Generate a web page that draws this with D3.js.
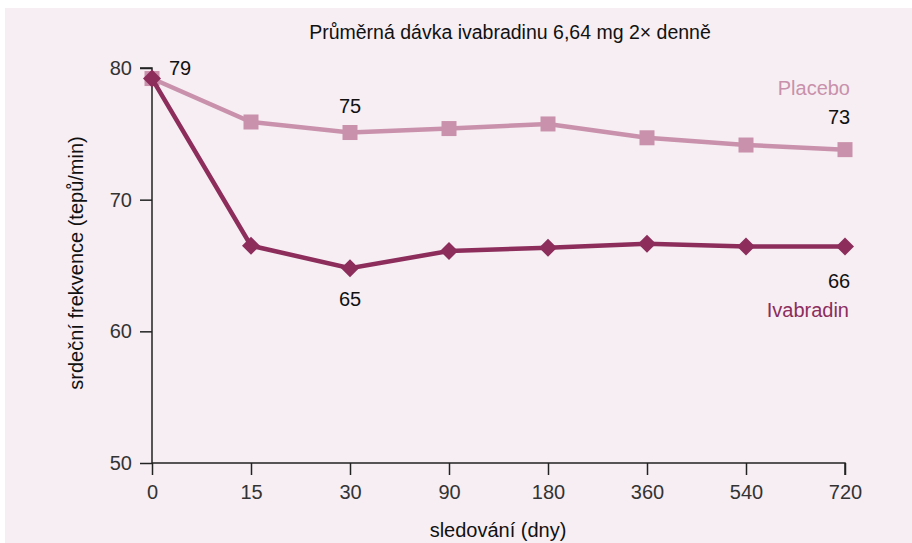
<!DOCTYPE html>
<html><head><meta charset="utf-8">
<script src="https://cdn.jsdelivr.net/npm/d3@7"></script>
<style>
html,body{margin:0;padding:0;background:#fff;}
svg{display:block;}
</style></head>
<body>
<svg id="chart" width="912" height="543"></svg>
<script>
const categories = ["0","15","30","90","180","360","540","720"];
const placebo = [79.2, 75.9, 75.1, 75.4, 75.75, 74.7, 74.15, 73.8];
const ivabradin = [79.2, 66.5, 64.8, 66.1, 66.35, 66.65, 66.45, 66.45];
const yTicks = [50, 60, 70, 80];
const title = "Průměrná dávka ivabradinu 6,64 mg 2× denně";
const yLabel = "srdeční frekvence (tepů/min)";
const xLabel = "sledování (dny)";
const pointLabels = [
  {series:"placebo", i:0, text:"79"},
  {series:"placebo", i:2, text:"75"},
  {series:"placebo", i:7, text:"73"},
  {series:"ivabradin", i:2, text:"65"},
  {series:"ivabradin", i:7, text:"66"}
];

const svg = d3.select("#chart");
const W = 912, H = 543;
svg.append("rect").attr("x",5).attr("y",8).attr("width",W-5).attr("height",H-8).attr("fill","#f6eef3");

const x = d3.scalePoint().domain(categories).range([152, 845]);
const y = d3.scaleLinear().domain([50, 80]).range([463, 68]);

const font = "'Liberation Sans', Arial, sans-serif";
const cPlacebo = "#c991ab", cIva = "#8c2d5c";

// axes
const yAxis = svg.append("g").attr("transform","translate(152,0)")
  .call(d3.axisLeft(y).tickValues(yTicks).tickSize(12).tickPadding(8).tickFormat(d3.format("d")));
const xAxis = svg.append("g").attr("transform","translate(0,463)")
  .call(d3.axisBottom(x).tickSize(12).tickPadding(10));
[yAxis, xAxis].forEach(g => {
  g.select(".domain").attr("stroke","#222").attr("stroke-width",1.5);
  g.selectAll(".tick line").attr("stroke","#222").attr("stroke-width",1.5);
  g.selectAll(".tick text").attr("fill","#333").style("font-family",font).style("font-size","20px").style("font-weight","300");
});
yAxis.select(".domain").attr("d","M-12,"+y(80)+"H0V"+y(50));
xAxis.select(".domain").attr("d","M"+x("0")+",0H"+x("720")+"V12");

const line = d3.line().x((d,i)=>x(categories[i])).y(d=>y(d));

// placebo
svg.append("path").attr("d", line(placebo)).attr("fill","none").attr("stroke",cPlacebo).attr("stroke-width",4.5);
svg.selectAll(".sq").data(placebo).join("rect")
  .attr("x",(d,i)=>x(categories[i])-7.5).attr("y",d=>y(d)-7.5)
  .attr("width",15).attr("height",15).attr("fill",cPlacebo);

// ivabradin
svg.append("path").attr("d", line(ivabradin)).attr("fill","none").attr("stroke",cIva).attr("stroke-width",4.5);
svg.selectAll(".dm").data(ivabradin).join("path")
  .attr("d",(d,i)=>{const cx=x(categories[i]), cy=y(d), r=9; return `M${cx},${cy-r}L${cx+r},${cy}L${cx},${cy+r}L${cx-r},${cy}Z`;})
  .attr("fill",cIva);

// title
svg.append("text").attr("x",510).attr("y",39).attr("text-anchor","middle")
  .style("font-family",font).style("font-size","19.5px").attr("fill","#111").text(title);

// axis labels
svg.append("text").attr("transform","translate(83,263) rotate(-90)").attr("text-anchor","middle")
  .style("font-family",font).style("font-size","20px").attr("fill","#111").text(yLabel);
svg.append("text").attr("x",498).attr("y",537).attr("text-anchor","middle")
  .style("font-family",font).style("font-size","20px").attr("fill","#111").text(xLabel);

// point labels
const offs = {"placebo-0":[28,-4],"placebo-2":[0,-20],"placebo-7":[-6,-26],"ivabradin-2":[0,38],"ivabradin-7":[-6,42]};
pointLabels.forEach(p => {
  const vals = p.series==="placebo" ? placebo : ivabradin;
  const o = offs[p.series+"-"+p.i];
  svg.append("text").attr("x",x(categories[p.i])+o[0]).attr("y",y(vals[p.i])+o[1])
    .attr("text-anchor","middle").style("font-family",font).style("font-size","20px").attr("fill","#111").text(p.text);
});

// series names
svg.append("text").attr("x",850).attr("y",95).attr("text-anchor","end")
  .style("font-family",font).style("font-size","20px").attr("fill",cPlacebo).text("Placebo");
svg.append("text").attr("x",849).attr("y",317).attr("text-anchor","end")
  .style("font-family",font).style("font-size","20px").attr("fill",cIva).text("Ivabradin");
</script>
</body></html>
